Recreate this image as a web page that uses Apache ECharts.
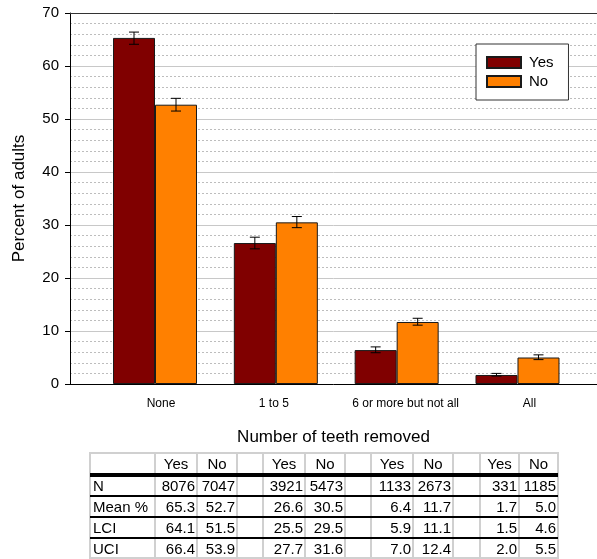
<!DOCTYPE html>
<html>
<head>
<meta charset="utf-8">
<script src="https://cdn.jsdelivr.net/npm/echarts@6/dist/echarts.min.js"></script>
<style>
  html, body { margin: 0; padding: 0; background: #fff; }
  #chart { width: 597px; height: 559px; }
</style>
</head>
<body>
<div id="chart"></div>
<script>
// Teeth removed, by group (Yes / No): percent of adults with 95% CI
const categories = ['None', '1 to 5', '6 or more but not all', 'All'];
const seriesNames = ['Yes', 'No'];
const meanYes = [65.3, 26.6, 6.4, 1.7];
const meanNo = [52.7, 30.5, 11.7, 5.0];
const lciYes = [64.1, 25.5, 5.9, 1.5];
const lciNo = [51.5, 29.5, 11.1, 4.6];
const uciYes = [66.4, 27.7, 7.0, 2.0];
const uciNo = [53.9, 31.6, 12.4, 5.5];
const nYes = [8076, 3921, 1133, 331];
const nNo = [7047, 5473, 2673, 1185];
const rowLabels = ['N', 'Mean %', 'LCI', 'UCI'];
const yTicks = [0, 10, 20, 30, 40, 50, 60, 70];

const FONT = '"Liberation Sans", Arial, Helvetica, sans-serif';
const BAR_W = 42;
const COLORS = ['#800000', '#ff8000'];

// small horizontal nudges of the category labels
const labelShift = [6, -2, 9, 12];
const rich = {};
labelShift.forEach(function (s, i) {
  rich['c' + i] = {
    fontSize: 12, fontFamily: FONT, color: '#000',
    padding: s >= 0 ? [0, 0, 0, 2 * s] : [0, -2 * s, 0, 0]
  };
});

// error bar data: [category, low, high, side]
const errData = [];
categories.forEach(function (c, i) {
  errData.push([i, lciYes[i], uciYes[i], 0]);
  errData.push([i, lciNo[i], uciNo[i], 1]);
});

// ---- table below the chart, built from the arrays ----
const rowEdges = [453, 475, 496, 517, 538, 559];
const colEdges = [90, 155, 197, 237, 263, 305, 345, 371, 413, 453, 480, 519, 558];
const groupCols = [[1, 2], [4, 5], [7, 8], [10, 11]]; // column indices (Yes, No) per category
const tableFont = '15px ' + FONT;
const gfx = [];
function hLine(y, h, color) {
  gfx.push({ type: 'rect', z: 10, shape: { x: colEdges[0], y: y - h / 2, width: colEdges[colEdges.length - 1] - colEdges[0], height: h }, style: { fill: color } });
}
function vLine(x) {
  gfx.push({ type: 'rect', z: 9, shape: { x: x - 1, y: rowEdges[0] - 1, width: 2, height: rowEdges[rowEdges.length - 1] - rowEdges[0] + 1 }, style: { fill: '#d0d0d0' } });
}
function cellText(txt, col, row, align) {
  const x0 = colEdges[col], x1 = colEdges[col + 1];
  const y = (rowEdges[row] + rowEdges[row + 1]) / 2 + 1;
  let x, a = align;
  if (a === 'left') x = x0 + 3;
  else if (a === 'right') x = x1 - 2;
  else x = (x0 + x1) / 2;
  gfx.push({ type: 'text', z: 11, style: { text: txt, x: x, y: y, font: tableFont, fill: '#000', align: a, textAlign: a, verticalAlign: 'middle', textVerticalAlign: 'middle' } });
}
colEdges.forEach(vLine);
hLine(rowEdges[0], 2, '#d0d0d0');
hLine(rowEdges[1], 4, '#000');
hLine(rowEdges[2], 2, '#000');
hLine(rowEdges[3], 2, '#000');
hLine(rowEdges[4], 2, '#000');
hLine(rowEdges[5] - 1, 2, '#d0d0d0');
const tableRows = [
  [nYes, nNo, function (v) { return String(v); }],
  [meanYes, meanNo, function (v) { return v.toFixed(1); }],
  [lciYes, lciNo, function (v) { return v.toFixed(1); }],
  [uciYes, uciNo, function (v) { return v.toFixed(1); }]
];
groupCols.forEach(function (gc, i) {
  cellText(seriesNames[0], gc[0], 0, 'center');
  cellText(seriesNames[1], gc[1], 0, 'center');
  tableRows.forEach(function (r, k) {
    cellText(r[2](r[0][i]), gc[0], k + 1, 'right');
    cellText(r[2](r[1][i]), gc[1], k + 1, 'right');
  });
});
rowLabels.forEach(function (l, k) { cellText(l, 0, k + 1, 'left'); });

const chart = echarts.init(document.getElementById('chart'), null, { renderer: 'canvas' });
chart.setOption({
  animation: false,
  backgroundColor: '#fff',
  textStyle: { fontFamily: FONT, color: '#000' },
  grid: [
    { left: 70, right: 0, top: 13, bottom: 175 },
    { left: 94.6, right: 19.1, top: 13, bottom: 175 }
  ],
  legend: {
    data: seriesNames,
    orient: 'vertical',
    left: 476, top: 44,
    padding: [11, 15, 11, 10],
    itemWidth: 34, itemHeight: 11, itemGap: 4,
    backgroundColor: '#fff',
    borderColor: '#333', borderWidth: 1,
    textStyle: { fontSize: 15, fontFamily: FONT, color: '#000', padding: [0, 0, 0, 3] },
    icon: 'rect'
  },
  xAxis: [
    {
      gridIndex: 0, type: 'value', min: 0, max: 1,
      axisLine: { show: true, lineStyle: { color: '#000', width: 1 } },
      axisTick: { show: false }, axisLabel: { show: false }, splitLine: { show: false },
      name: 'Number of teeth removed', nameLocation: 'middle', nameGap: 45,
      nameTextStyle: { fontSize: 17, fontFamily: FONT, color: '#000' }
    },
    {
      gridIndex: 0, type: 'value', min: 0, max: 1, position: 'top',
      axisLine: { show: true, lineStyle: { color: '#333', width: 1 } },
      axisTick: { show: false }, axisLabel: { show: false }, splitLine: { show: false }
    },
    {
      gridIndex: 1, type: 'category', data: categories,
      axisLine: { show: false }, axisTick: { show: false },
      axisLabel: {
        margin: 14, interval: 0, rich: rich,
        formatter: function (v, i) { return '{c' + i + '|' + v + '}'; }
      }
    }
  ],
  yAxis: [
    {
      gridIndex: 0, type: 'value', min: yTicks[0], max: yTicks[yTicks.length - 1], interval: 10,
      axisLine: { show: true, lineStyle: { color: '#000', width: 1 } },
      axisTick: { show: true, length: 5, lineStyle: { color: '#000' } },
      axisLabel: { fontSize: 15, fontFamily: FONT, color: '#000', margin: 11 },
      splitLine: { show: true, lineStyle: { color: '#c8c8c8', width: 1 } },
      minorTick: { show: false, splitNumber: 5 },
      minorSplitLine: { show: true, lineStyle: { color: '#bdbdbd', width: 1, type: [2, 2] } },
      name: 'Percent of adults', nameLocation: 'middle', nameGap: 42,
      nameTextStyle: { fontSize: 17, fontFamily: FONT, color: '#000' }
    },
    {
      gridIndex: 1, type: 'value', min: yTicks[0], max: yTicks[yTicks.length - 1],
      show: false, splitLine: { show: false }
    }
  ],
  series: [
    {
      name: seriesNames[0], type: 'bar', xAxisIndex: 2, yAxisIndex: 1,
      data: meanYes, barWidth: BAR_W, barGap: '0%',
      itemStyle: { color: COLORS[0], borderColor: '#1a1a1a', borderWidth: 1 }
    },
    {
      name: seriesNames[1], type: 'bar', xAxisIndex: 2, yAxisIndex: 1,
      data: meanNo, barWidth: BAR_W, barGap: '0%',
      itemStyle: { color: COLORS[1], borderColor: '#1a1a1a', borderWidth: 1 }
    },
    {
      type: 'custom', xAxisIndex: 2, yAxisIndex: 1, z: 5,
      data: errData,
      renderItem: function (params, api) {
        const lo = api.coord([api.value(0), api.value(1)]);
        const hi = api.coord([api.value(0), api.value(2)]);
        const x = lo[0] + (api.value(3) === 0 ? -BAR_W / 2 : BAR_W / 2);
        const cap = 5;
        const st = { stroke: '#000', lineWidth: 1 };
        return {
          type: 'group',
          children: [
            { type: 'line', shape: { x1: x, y1: lo[1], x2: x, y2: hi[1] }, style: st },
            { type: 'line', shape: { x1: x - cap, y1: lo[1], x2: x + cap, y2: lo[1] }, style: st },
            { type: 'line', shape: { x1: x - cap, y1: hi[1], x2: x + cap, y2: hi[1] }, style: st }
          ]
        };
      }
    }
  ],
  graphic: { elements: gfx }
});
</script>
</body>
</html>
